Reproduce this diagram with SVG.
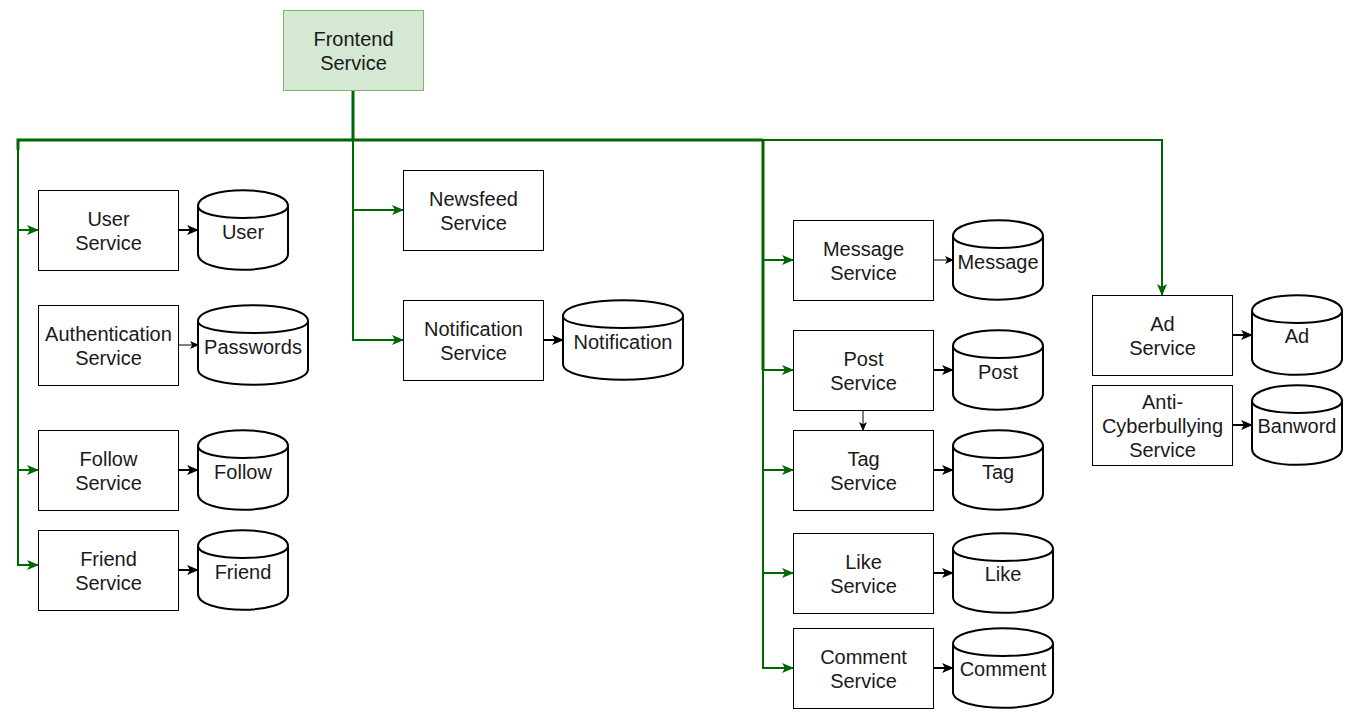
<svg xmlns="http://www.w3.org/2000/svg" width="1353" height="719" viewBox="0 0 1353 719">
<defs>
<style>
.box{fill:#fff;stroke:#000;stroke-width:1}
.fe{fill:#d5e8d4;stroke:#82b366;stroke-width:1}
.db{fill:#fff;stroke:#000;stroke-width:2}
.t{font-family:"Liberation Sans",Arial,Helvetica,sans-serif;font-size:20px;fill:#1a1a1a;text-anchor:middle}
.g{fill:none;stroke:#006600;stroke-width:2}
.k{fill:none;stroke:#000;stroke-width:2}
.k1{fill:none;stroke:#000;stroke-width:1}
</style>
<marker id="ag" markerWidth="12" markerHeight="10" refX="11" refY="5" orient="auto" markerUnits="userSpaceOnUse">
<path d="M0,0 L12,5 L0,10 L3,5 Z" fill="#006600"/>
</marker>
<marker id="ak" markerWidth="12" markerHeight="10" refX="11" refY="5" orient="auto" markerUnits="userSpaceOnUse">
<path d="M0,0 L12,5 L0,10 L3,5 Z" fill="#000"/>
</marker>
<marker id="ak1" markerWidth="9" markerHeight="8" refX="8" refY="4" orient="auto" markerUnits="userSpaceOnUse">
<path d="M0,0 L9,4 L0,8 L2.2,4 Z" fill="#000"/>
</marker>
</defs>

<g id="connectors">
<path class="g" style="stroke-width:3" d="M353,90 V140 H763"/>
<path class="g" style="stroke-width:3" d="M353,140 H18 V150"/>
<path class="g" d="M18,140 V230 H38" marker-end="url(#ag)"/>
<path class="g" d="M18,140 V470 H38" marker-end="url(#ag)"/>
<path class="g" d="M18,140 V565 H38" marker-end="url(#ag)"/>
<path class="g" d="M353,140 V210 H403" marker-end="url(#ag)"/>
<path class="g" d="M353,140 V340 H403" marker-end="url(#ag)"/>
<path class="g" style="stroke-width:3" d="M763,140 V370"/>
<path class="g" d="M763,140 V260 H793" marker-end="url(#ag)"/>
<path class="g" d="M763,140 V370 H793" marker-end="url(#ag)"/>
<path class="g" d="M763,140 V470 H793" marker-end="url(#ag)"/>
<path class="g" d="M763,140 V573 H793" marker-end="url(#ag)"/>
<path class="g" d="M763,140 V668 H793" marker-end="url(#ag)"/>
<path class="g" d="M763,140 H1162 V295" marker-end="url(#ag)"/>

<path class="k" d="M178,230 H198" marker-end="url(#ak)"/>
<path class="k1" d="M178,345 H198" marker-end="url(#ak1)"/>
<path class="k" d="M178,470 H198" marker-end="url(#ak)"/>
<path class="k" d="M178,570 H198" marker-end="url(#ak)"/>
<path class="k" d="M543,340 H563" marker-end="url(#ak)"/>
<path class="k1" d="M933,260 H953" marker-end="url(#ak1)"/>
<path class="k" d="M933,370 H953" marker-end="url(#ak)"/>
<path class="k1" d="M863,410 V430" marker-end="url(#ak1)"/>
<path class="k" d="M933,470 H953" marker-end="url(#ak)"/>
<path class="k" d="M933,573 H953" marker-end="url(#ak)"/>
<path class="k" d="M933,668 H953" marker-end="url(#ak)"/>
<path class="k" d="M1232,335 H1252" marker-end="url(#ak)"/>
<path class="k" d="M1232,425 H1252" marker-end="url(#ak)"/>
</g>

<g id="frontend"><rect class="fe" x="283.5" y="10.5" width="140" height="80"/><text class="t" x="353.5" y="46">Frontend</text><text class="t" x="353.5" y="70">Service</text></g>

<g id="user-service"><rect class="box" x="38.5" y="190.5" width="140" height="80"/><text class="t" x="108.5" y="226">User</text><text class="t" x="108.5" y="250">Service</text></g>
<g id="user-db"><path class="db" d="M198,206 C198,185 288,185 288,206 V254 C288,275 198,275 198,254 Z M198,206 C198,222 288,222 288,206"/><text class="t" x="243" y="239">User</text></g>

<g id="auth-service"><rect class="box" x="38.5" y="305.5" width="140" height="80"/><text class="t" x="108.5" y="341">Authentication</text><text class="t" x="108.5" y="365">Service</text></g>
<g id="passwords-db"><path class="db" d="M198,321 C198,300 308,300 308,321 V369 C308,390 198,390 198,369 Z M198,321 C198,337 308,337 308,321"/><text class="t" x="253" y="354">Passwords</text></g>

<g id="follow-service"><rect class="box" x="38.5" y="430.5" width="140" height="80"/><text class="t" x="108.5" y="466">Follow</text><text class="t" x="108.5" y="490">Service</text></g>
<g id="follow-db"><path class="db" d="M198,446 C198,425 288,425 288,446 V494 C288,515 198,515 198,494 Z M198,446 C198,462 288,462 288,446"/><text class="t" x="243" y="479">Follow</text></g>

<g id="friend-service"><rect class="box" x="38.5" y="530.5" width="140" height="80"/><text class="t" x="108.5" y="566">Friend</text><text class="t" x="108.5" y="590">Service</text></g>
<g id="friend-db"><path class="db" d="M198,546 C198,525 288,525 288,546 V594 C288,615 198,615 198,594 Z M198,546 C198,562 288,562 288,546"/><text class="t" x="243" y="579">Friend</text></g>

<g id="newsfeed-service"><rect class="box" x="403.5" y="170.5" width="140" height="80"/><text class="t" x="473.5" y="206">Newsfeed</text><text class="t" x="473.5" y="230">Service</text></g>

<g id="notification-service"><rect class="box" x="403.5" y="300.5" width="140" height="80"/><text class="t" x="473.5" y="336">Notification</text><text class="t" x="473.5" y="360">Service</text></g>
<g id="notification-db"><path class="db" d="M563,316 C563,295 683,295 683,316 V364 C683,385 563,385 563,364 Z M563,316 C563,332 683,332 683,316"/><text class="t" x="623" y="349">Notification</text></g>

<g id="message-service"><rect class="box" x="793.5" y="220.5" width="140" height="80"/><text class="t" x="863.5" y="256">Message</text><text class="t" x="863.5" y="280">Service</text></g>
<g id="message-db"><path class="db" d="M953,236 C953,215 1043,215 1043,236 V284 C1043,305 953,305 953,284 Z M953,236 C953,252 1043,252 1043,236"/><text class="t" x="998" y="269">Message</text></g>

<g id="post-service"><rect class="box" x="793.5" y="330.5" width="140" height="80"/><text class="t" x="863.5" y="366">Post</text><text class="t" x="863.5" y="390">Service</text></g>
<g id="post-db"><path class="db" d="M953,346 C953,325 1043,325 1043,346 V394 C1043,415 953,415 953,394 Z M953,346 C953,362 1043,362 1043,346"/><text class="t" x="998" y="379">Post</text></g>

<g id="tag-service"><rect class="box" x="793.5" y="430.5" width="140" height="80"/><text class="t" x="863.5" y="466">Tag</text><text class="t" x="863.5" y="490">Service</text></g>
<g id="tag-db"><path class="db" d="M953,446 C953,425 1043,425 1043,446 V494 C1043,515 953,515 953,494 Z M953,446 C953,462 1043,462 1043,446"/><text class="t" x="998" y="479">Tag</text></g>

<g id="like-service"><rect class="box" x="793.5" y="533.5" width="140" height="80"/><text class="t" x="863.5" y="569">Like</text><text class="t" x="863.5" y="593">Service</text></g>
<g id="like-db"><path class="db" d="M953,549 C953,528 1053,528 1053,549 V597 C1053,618 953,618 953,597 Z M953,549 C953,565 1053,565 1053,549"/><text class="t" x="1003" y="581">Like</text></g>

<g id="comment-service"><rect class="box" x="793.5" y="628.5" width="140" height="80"/><text class="t" x="863.5" y="664">Comment</text><text class="t" x="863.5" y="688">Service</text></g>
<g id="comment-db"><path class="db" d="M953,644 C953,623 1053,623 1053,644 V692 C1053,713 953,713 953,692 Z M953,644 C953,660 1053,660 1053,644"/><text class="t" x="1003" y="676">Comment</text></g>

<g id="ad-service"><rect class="box" x="1092.5" y="295.5" width="140" height="80"/><text class="t" x="1162.5" y="331">Ad</text><text class="t" x="1162.5" y="355">Service</text></g>
<g id="ad-db"><path class="db" d="M1252,311 C1252,290 1342,290 1342,311 V359 C1342,380 1252,380 1252,359 Z M1252,311 C1252,327 1342,327 1342,311"/><text class="t" x="1297" y="343">Ad</text></g>

<g id="anti-cyberbullying-service"><rect class="box" x="1092.5" y="385.5" width="140" height="80"/><text class="t" x="1162.5" y="409">Anti-</text><text class="t" x="1162.5" y="433">Cyberbullying</text><text class="t" x="1162.5" y="457">Service</text></g>
<g id="banword-db"><path class="db" d="M1252,401 C1252,380 1342,380 1342,401 V449 C1342,470 1252,470 1252,449 Z M1252,401 C1252,417 1342,417 1342,401"/><text class="t" x="1297" y="433">Banword</text></g>
</svg>
